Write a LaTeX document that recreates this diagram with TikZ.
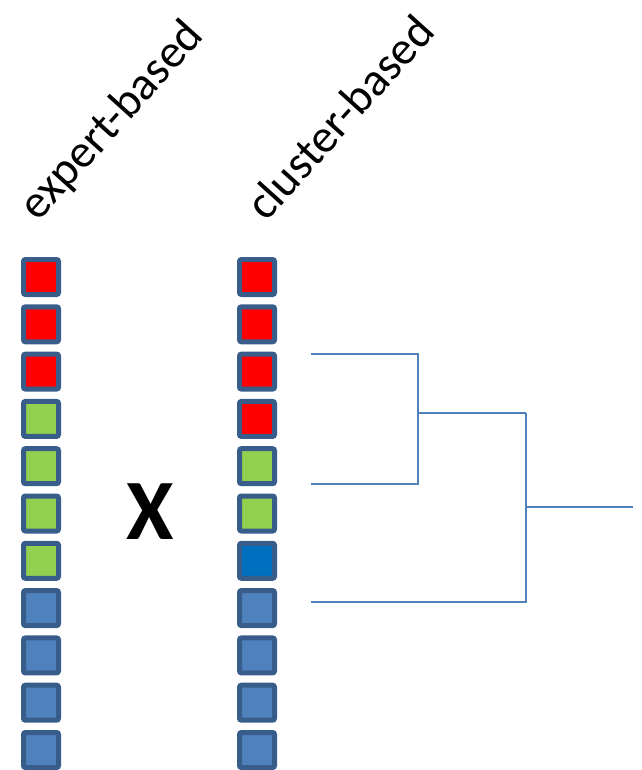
\documentclass[tikz,border=0pt]{standalone}
\usepackage{fontspec}
\setmainfont{Carlito}
\definecolor{frame}{HTML}{385D8A}
\definecolor{cred}{HTML}{FF0000}
\definecolor{cgreen}{HTML}{92D050}
\definecolor{cblue}{HTML}{4F81BD}
\definecolor{cdeep}{HTML}{0070C0}
\definecolor{tree}{HTML}{4F81BD}
\tikzset{
  cell/.style={draw=frame, line width=5pt, rounded corners=2pt,
    minimum size=35pt, inner sep=0pt, fill=#1},
  label45/.style={font=\fontsize{47}{47}\selectfont, rotate=48, anchor=base west, inner sep=0pt},
  branch/.style={draw=tree, line width=1.6pt}
}
\begin{document}
\begin{tikzpicture}[x=1pt, y=-1pt]
\useasboundingbox (0,0) rectangle (641,770);

% column headers
\node[label45] (hexp) at (38,223) {expert-based};
\node[label45] (hclu) at (266,223) {cluster-based};

% expert-based column
\foreach \c [count=\i] in {cred,cred,cred,cgreen,cgreen,cgreen,cgreen,cblue,cblue,cblue,cblue}
  \node[cell=\c] (e\i) at (41, {277+47.3*(\i-1)}) {};

% cluster-based column
\foreach \c [count=\i] in {cred,cred,cred,cred,cgreen,cgreen,cdeep,cblue,cblue,cblue,cblue}
  \node[cell=\c] (c\i) at (257, {277+47.3*(\i-1)}) {};

% cross sign between the columns
\node[font=\fontsize{86}{86}\selectfont\bfseries, inner sep=0pt] (cross) at (150,512) {X};

% dendrogram
\coordinate (l1) at (311,354);
\coordinate (l2) at (311,484);
\coordinate (l3) at (311,602);
\coordinate (j1) at (418,413);
\coordinate (j2) at (526,507);
\coordinate (root) at (633,507);
\draw[branch] (l1) -| (j1) |- (l2);
\draw[branch] (j1) -- (j1 -| j2);
\draw[branch] (j1 -| j2) |- (l3);
\draw[branch] (j2) -- (root);
\end{tikzpicture}
\end{document}
